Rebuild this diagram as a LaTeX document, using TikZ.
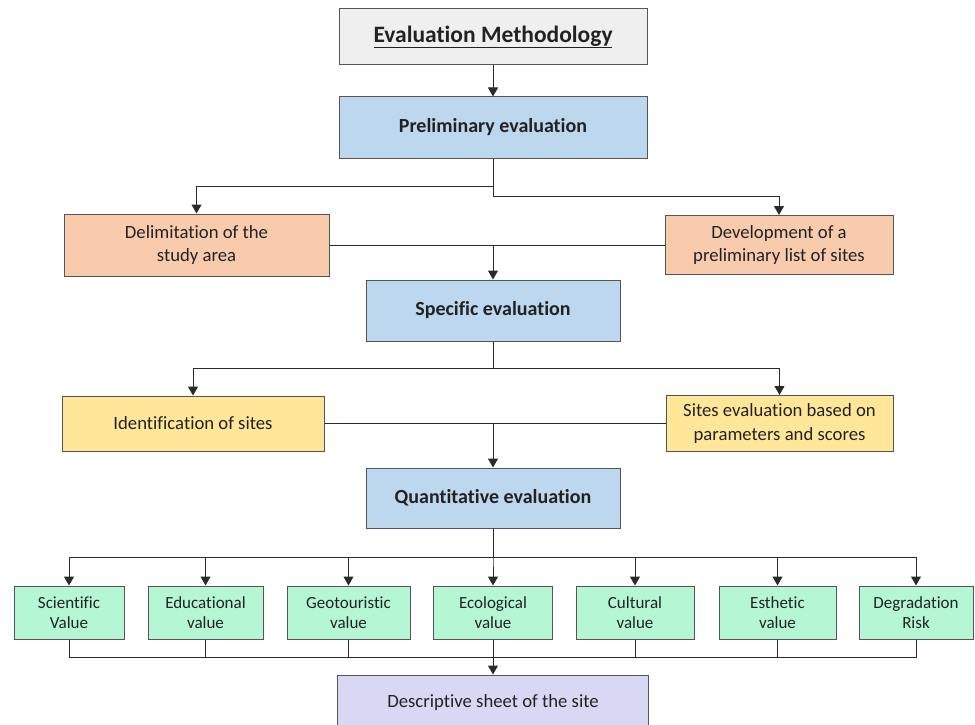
\documentclass[tikz,border=0pt]{standalone}
\usepackage{fontspec}
\setmainfont{Carlito}[Ligatures=NoCommon]
\usetikzlibrary{arrows.meta}
\definecolor{cgray}{HTML}{EFEFEF}
\definecolor{cblue}{HTML}{BDD7EE}
\definecolor{corange}{HTML}{F8CBAD}
\definecolor{cyellow}{HTML}{FFE699}
\definecolor{cgreen}{HTML}{B5F6D5}
\definecolor{clav}{HTML}{D9D8F4}
\definecolor{cline}{HTML}{2A2A2A}
\definecolor{cborder}{HTML}{555555}
\definecolor{ctext}{HTML}{222222}
\tikzset{
  box/.style={draw=cborder, line width=1pt, align=center, text=ctext, inner sep=2pt,
    font=\fontsize{18.7}{23.5}\selectfont},
  bbox/.style={box, font=\fontsize{20}{23}\selectfont\bfseries},
  gbox/.style={box, fill=cgreen, minimum height=53pt, font=\fontsize{17}{20.5}\selectfont},
  conn/.style={draw=cline, line width=1pt},
  arr/.style={conn, -{Triangle[length=9pt,width=10pt]}},
}
\begin{document}
\begin{tikzpicture}[x=1pt,y=-1pt]
\useasboundingbox (0,0) rectangle (975,725);
\clip (0,0) rectangle (975,725);
% boxes
\node[bbox, fill=cgray, minimum width=308pt, minimum height=56pt, font=\fontsize{23.5}{26}\selectfont\bfseries] (top) at (493,37) {\underline{Evaluation Methodology}};
\node[bbox, fill=cblue, minimum width=308pt, minimum height=61pt] (prelim) at (493,127.5) {Preliminary evaluation};
\node[box, fill=corange, minimum width=265pt, minimum height=62pt] (delim) at (196.5,245) {Delimitation of the\\study area};
\node[box, fill=corange, minimum width=228pt, minimum height=59pt] (devel) at (779,245) {Development\ of a\\preliminary list of sites};
\node[bbox, fill=cblue, minimum width=254pt, minimum height=61pt] (spec) at (493,310.5) {Specific evaluation};
\node[box, fill=cyellow, minimum width=262pt, minimum height=55pt] (ident) at (193,423.5) {Identification of sites};
\node[box, fill=cyellow, minimum width=227pt, minimum height=56pt] (sites) at (779.5,423.5) {Sites evaluation based on\\parameters and scores};
\node[bbox, fill=cblue, minimum width=254pt, minimum height=60pt] (quant) at (493,498) {Quantitative evaluation};
\node[gbox, minimum width=110pt] (sci) at (69,612.5) {Scientific\\Value};
\node[gbox, minimum width=115pt] (edu) at (205.5,612.5) {Educational\\value};
\node[gbox, minimum width=123pt] (geo) at (348.5,612.5) {Geotouristic\\value};
\node[gbox, minimum width=119pt] (eco) at (493,612.5) {Ecological\\value};
\node[gbox, minimum width=118pt] (cul) at (635,612.5) {Cultural\\value};
\node[gbox, minimum width=117pt] (est) at (777.5,612.5) {Esthetic\\value};
\node[gbox, minimum width=114pt] (deg) at (916,612.5) {Degradation\\Risk};
\node[box, fill=clav, minimum width=311pt, minimum height=56pt] (desc) at (493,703) {Descriptive sheet of the site};
% connectors
\coordinate (j1) at (493,186);
\coordinate (j2) at (493,196);
\coordinate (j3) at (493,368);
\coordinate (j4) at (493,557);
\coordinate (j5) at (493,657);
\draw[arr] (top) -- (prelim);
\draw[arr] (prelim.south) -- (j1) -| (delim.north);
\draw[arr] (prelim.south) -- (j2) -| (devel.north);
\draw[conn] (delim.east) -- (devel.west);
\draw[arr] (delim.east -| spec.north) -- (spec.north);
\draw[arr] (spec.south) -- (j3) -| (ident.north);
\draw[arr] (spec.south) -- (j3) -| (sites.north);
\draw[conn] (ident.east) -- (sites.west);
\draw[arr] (ident.east -| quant.north) -- (quant.north);
\foreach \g in {sci,edu,geo,eco,cul,est,deg}{
  \draw[arr] (quant.south) -- (j4) -| (\g.north);
  \draw[conn] (\g.south) |- (j5);
}
\draw[arr] (eco.south) -- (desc.north);
\end{tikzpicture}
\end{document}
